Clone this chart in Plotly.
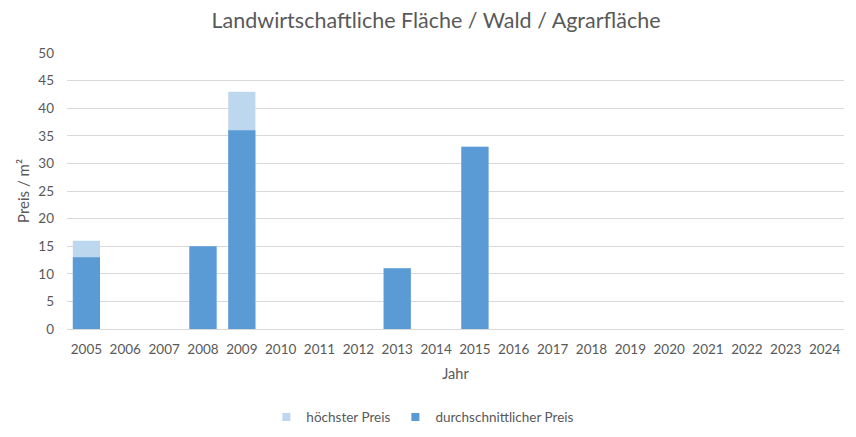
import plotly.graph_objects as go

years = [str(y) for y in range(2005, 2025)]
hoechster_preis = [16, None, None, 15, 43, None, None, None, 11, None, 33,
                   None, None, None, None, None, None, None, None, None]
durchschnitt_preis = [13, None, None, 15, 36, None, None, None, 11, None, 33,
                      None, None, None, None, None, None, None, None, None]

_font = "Lato, Open Sans, sans-serif"
_text_color = "#595959"
_light = "#BDD7EE"
_dark = "#5B9BD5"

fig = go.Figure()
fig.add_trace(go.Bar(x=years, y=hoechster_preis, name="höchster Preis",
                     marker=dict(color=_light, line=dict(width=0)),
                     showlegend=False))
fig.add_trace(go.Bar(x=years, y=durchschnitt_preis, name="durchschnittlicher Preis",
                     marker=dict(color=_dark, line=dict(width=0)),
                     showlegend=False))

# small square legend markers like the original
for name, col in [("höchster Preis", _light), ("durchschnittlicher Preis", _dark)]:
    fig.add_trace(go.Scatter(x=[None], y=[None], mode="markers", name=name,
                             marker=dict(symbol="square", size=8, color=col)))

# note: the page body adds an 8px offset, margins compensate for it
fig.update_layout(
    width=856,
    height=437,
    barmode="overlay",
    bargap=0.3,
    plot_bgcolor="white",
    paper_bgcolor="white",
    font=dict(family=_font, color=_text_color, size=13),
    title=dict(text="Landwirtschaftliche Fläche / Wald / Agrarfläche",
               x=0.5, xanchor="center", y=0.9725, yanchor="middle",
               font=dict(size=21.5, color=_text_color)),
    margin=dict(l=59, r=19.5, t=45, b=107),
    xaxis=dict(
        title=dict(text="Jahr", font=dict(size=14.5), standoff=12),
        showline=True, linecolor="#D9D9D9", linewidth=1,
        showgrid=False, ticks="", tickfont=dict(size=13.5),
        ticklabelstandoff=8, automargin=False,
    ),
    yaxis=dict(
        title=dict(text="Preis / m²", font=dict(size=15), standoff=5),
        range=[0, 50], dtick=5, showgrid=True, gridcolor="#D9D9D9",
        zeroline=False, showline=False, tickfont=dict(size=13.5),
        ticklabelstandoff=12, automargin=False,
    ),
    legend=dict(orientation="h", x=0.458, xanchor="center", y=-0.32,
                yanchor="middle", font=dict(size=13.5), traceorder="normal",
                itemwidth=30, tracegroupgap=0),
)

fig.write_html("out.html")
